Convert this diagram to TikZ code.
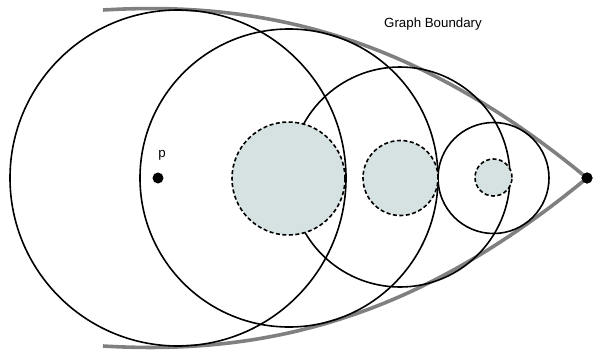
\documentclass[tikz,border=0pt]{standalone}
\usepackage{fontspec}
\setmainfont{Liberation Sans}
\usepackage{xcolor}
\usepackage{tikz}
\usetikzlibrary{positioning}
\definecolor{preenchido}{RGB}{214,226,226}
\definecolor{cinzaFronteira}{RGB}{128,128,128}
\tikzset{
    circulo/.style={draw=black, line width=1.6pt},
    regiaoLivre/.style={
        draw=black,
        fill=preenchido,
        line width=1.6pt,
        dash pattern=on 4pt off 2.5pt
    },
    fronteira/.style={draw=cinzaFronteira, line width=3.6pt},
    ponto/.style={circle, fill=black, inner sep=0pt, minimum size=11pt},
    rotulo/.style={font=\fontsize{13.3}{15}\selectfont, inner sep=0pt}
}

\begin{document}
\begin{tikzpicture}[x=1pt, y=-1pt]
        \useasboundingbox (0,0) rectangle (605,349);
        % fronteira do grafo
        \coordinate (topo) at (103,10);
        \coordinate (base) at (103,346);
        \node[ponto] (alvo) at (587,178) {};
        \draw[fronteira] (topo) .. controls (270,0) and (420,40) .. (alvo.center);
        \draw[fronteira] (base) .. controls (270,356) and (420,316) .. (alvo.center);
        % circulos grandes
        \draw[circulo] (178,178) circle (168pt);
        \draw[circulo] (289,178) circle (149pt);
        \draw[circulo] (400,177) circle (110pt);
        \draw[circulo] (493.5,178) circle (55.5pt);
        % regioes tracejadas
        \draw[regiaoLivre] (288.5,178.5) circle (56.5pt);
        \draw[regiaoLivre] (400.5,178) circle (37.5pt);
        \draw[regiaoLivre] (493.5,177.5) circle (18.5pt);
        % pontos e textos
        \node[ponto] (p) at (158,178) {};
        \node[rotulo] (rotuloP) at (162,155) {p};
        \node[ponto] at (alvo) {};
        \node[rotulo, anchor=base] (titulo) at (433,27) {Graph Boundary};
    \end{tikzpicture}
\end{document}
